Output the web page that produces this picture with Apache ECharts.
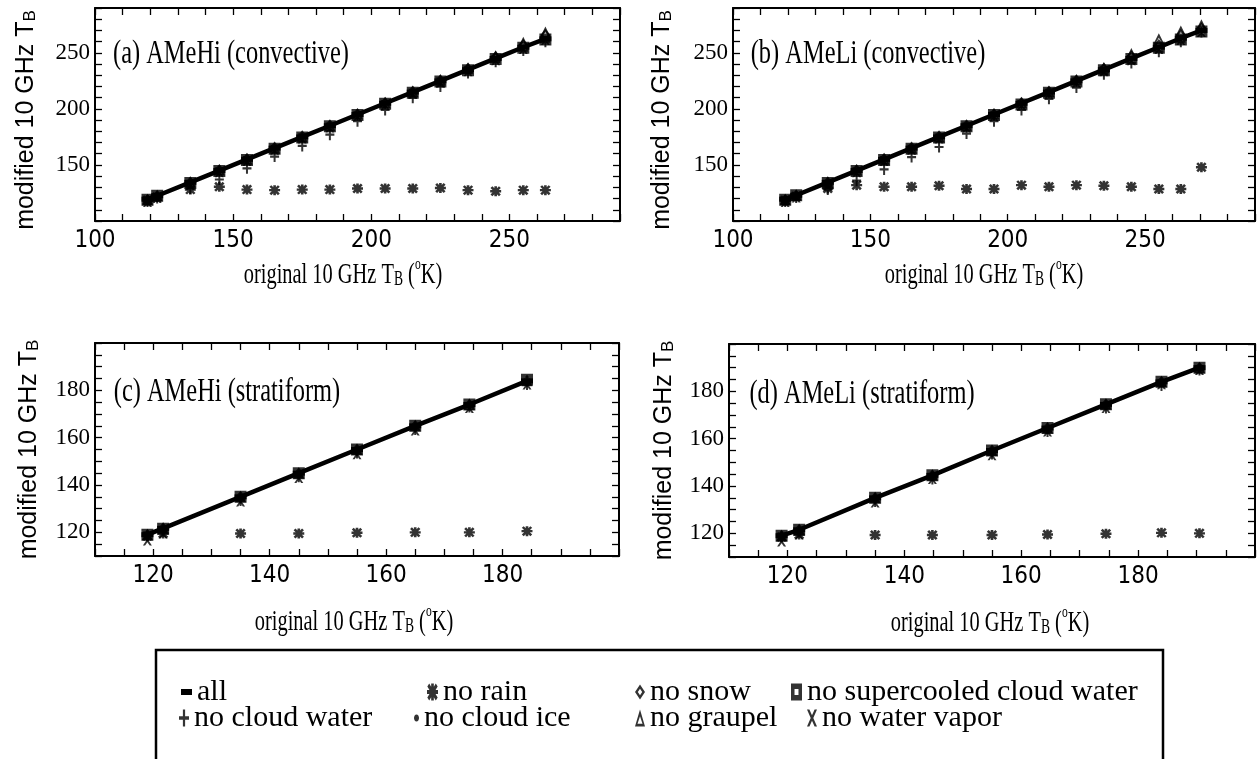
<!DOCTYPE html>
<html><head><meta charset="utf-8">
<script src="https://cdn.jsdelivr.net/npm/echarts@6/dist/echarts.min.js"></script>
<style>html,body{margin:0;padding:0;background:#fff}#c{width:1258px;height:759px}</style>
</head><body><div id="c"></div>
<script>
// ---- series names (legend) ----
const NAMES = ['all','no rain','no snow','no supercooled cloud water','no cloud water','no cloud ice','no graupel','no water vapor'];

// ---- panel (a) AMeHi convective ----
const A_X       = [119,122.5,134.5,145,155,165,175,185,195,205,215,225,235,245,255,263];
const A_ALL     = [119.5,122.5,134.5,145,155,165,175,185,195,205,215,225,235,245,255,262.5];
const A_RAIN    = [118.5,121.5,128,130.5,128,127.5,128,128,129,129,129,129.5,127.5,126.5,127.5,127.5];
const A_SNOW    = [119,122.5,134.5,145.5,155.5,165.5,175.5,185.5,195.5,205.5,215.5,225.5,236,246.5,257,266];
const A_SC      = [119,122.5,134,144.5,154.5,164.5,174.5,184.5,194.5,204.5,214.5,224.5,234.5,244.5,254.5,262];
const A_CW      = [117.5,120.5,129,137,147,157.5,167,177,189,199,210,220,232,242,252,260];
const A_ICE     = [119.5,122.5,134.5,145,155,165,175,185,195,205,215,225,235,245,255,262.5];
const A_GRAUPEL = [119,122.5,134.5,145.5,155,165,175,185,195.5,205.5,215.5,226,236.5,247.5,259.5,268.5];
const A_VAPOR   = [117,120.5,132,143.5,153.5,163.5,173.5,183.5,193.5,203.5,213.5,223.5,233.5,243.5,253.5,261.5];

// ---- panel (b) AMeLi convective ----
const B_X       = [119,123,134.5,145,155,165,175,185,195,205,215,225,235,245,255,263,270.5];
const B_ALL     = [119.5,123,134.5,145,155,165,175,185,195,205,215,225,235,245,255,263,270];
const B_RAIN    = [118.5,122,129,132,130.5,130.5,131.5,128.5,128.5,132,130.5,132,131.5,130.5,128.5,128.5,148];
const B_SNOW    = [119,123,134.5,145.5,155.5,165.5,175.5,185.5,195.5,205.5,215.5,225.5,236,247,257,266,272];
const B_SC      = [119,123,134,144.5,154.5,164.5,174.5,184.5,194.5,204,214.5,224.5,234.5,244.5,254.5,262,269];
const B_CW      = [117.5,121,128,136,146,157,166,178,189,199,209,219,231,241,251,260,268.5];
const B_ICE     = [119.5,123,134.5,145,155,165,175,185,195,205,215,225,235,245,255,263,270];
const B_GRAUPEL = [119,123,134.5,145.5,155,165,175,185,195.5,205.5,215.5,226,237,249.5,262.5,269.5,275];
const B_VAPOR   = [117,121,132,143.5,153.5,163.5,173.5,183.5,193.5,203.5,213.5,223.5,233.5,243.5,253.5,261.5,268.5];

// ---- panel (c) AMeHi stratiform ----
const C_X       = [119,121.7,135,145,155,165,174.3,184.2];
const C_ALL     = [119,121.7,135,145,155,165,174,184];
const C_RAIN    = [118.5,119.5,119.5,119.5,119.8,120,120,120.5];
const C_SNOW    = [119,121.7,135,145,155,165,174,184];
const C_SC      = [119,121.5,135,145,155,165,174,184.5];
const C_CW      = [118.5,120.5,133.5,143.5,153.5,163.5,173,182.5];
const C_ICE     = [119,121.7,135,145,155,165,174,184];
const C_GRAUPEL = [119,121.7,135,145,155,165,174,184];
const C_VAPOR   = [116.5,119.5,133,143,153,163,172.5,182.5];

// ---- panel (d) AMeLi stratiform ----
const D_X       = [119,122,135,144.8,155,164.5,174.5,184,190.5];
const D_ALL     = [119,121.5,135,144.5,155,164.5,174.5,184,190];
const D_RAIN    = [118.5,119.5,119.3,119.3,119.3,119.5,119.8,120.2,120];
const D_SNOW    = [119,121.5,135,144.5,155,164.5,174.5,184,190];
const D_SC      = [119,121.5,135,144.5,155,164.5,174.5,184,190];
const D_CW      = [118.5,120.5,133.5,143,153.5,163,173,182.5,189];
const D_ICE     = [119,121.5,135,144.5,155,164.5,174.5,184,190];
const D_GRAUPEL = [119,121.5,135,144.5,155,164.5,174.5,184,190];
const D_VAPOR   = [116.5,119.5,133,143,153,163,173,183,189];

// ---- axis tick labels ----
const CONV_TICKS  = [100,150,200,250];
const CONV_YTICKS = [150,200,250];
const STRAT_TICKS = [120,140,160,180];

const TITLES = ['(a) AMeHi (convective)','(b) AMeLi (convective)','(c) AMeHi (stratiform)','(d) AMeLi (stratiform)'];

const PANELS = [
  {x:A_X, vals:[A_ALL,A_RAIN,A_SNOW,A_SC,A_CW,A_ICE,A_GRAUPEL,A_VAPOR], kind:'conv'},
  {x:B_X, vals:[B_ALL,B_RAIN,B_SNOW,B_SC,B_CW,B_ICE,B_GRAUPEL,B_VAPOR], kind:'conv'},
  {x:C_X, vals:[C_ALL,C_RAIN,C_SNOW,C_SC,C_CW,C_ICE,C_GRAUPEL,C_VAPOR], kind:'strat'},
  {x:D_X, vals:[D_ALL,D_RAIN,D_SNOW,D_SC,D_CW,D_ICE,D_GRAUPEL,D_VAPOR], kind:'strat'}
];

// ---- layout / style ----
const GRIDS = [
  {left:95, top:8, width:525, height:213},
  {left:733, top:8, width:524, height:213},
  {left:95, top:343, width:524, height:213},
  {left:729, top:344, width:528, height:213}
];
const SYM = {
  'all': 'path://M0,0H100V45H0Z',
  'no rain': 'path://M38,0H62V100H38Z M3,17L20,0L97,83L80,100Z M80,0L97,17L20,100L3,83Z M0,38H100V62H0Z',
  'no snow': 'path://M50,0L100,50L50,100L0,50Z M50,28L28,50L50,72L72,50Z',
  'no supercooled cloud water': 'path://M0,0H100V100H0Z M32,32V68H68V32Z',
  'no cloud water': 'path://M40,0H60V40H95V60H60V100H40V60H5V40H40Z',
  'no cloud ice': 'path://M50,0C80,0 100,22 100,50C100,78 80,100 50,100C20,100 0,78 0,50C0,22 20,0 50,0Z',
  'no graupel': 'path://M50,0L100,100L0,100Z M50,40L25,84H75Z',
  'no water vapor': 'path://M0,0L24,0L50,34L76,0L100,0L63,50L100,100L76,100L50,66L24,100L0,100L37,50Z'
};
const SIZE = {
  'all':[12,5], 'no rain':[11,10], 'no snow':[10,12], 'no supercooled cloud water':[12,12],
  'no cloud water':[9,11], 'no cloud ice':[4,5], 'no graupel':[11,11], 'no water vapor':[9,10]
};
const SERIF = '"Liberation Serif", "Times New Roman", serif';
const SANS = '"Liberation Sans", Arial, sans-serif';
const NARROW = '"Liberation Sans Narrow", "DejaVu Sans Condensed", "Liberation Sans", sans-serif';

const xAxis = [], yAxis = [], series = [];
PANELS.forEach((p, gi) => {
  const conv = p.kind === 'conv';
  const min = conv ? 100 : 110, max = conv ? 290 : 200, step = conv ? 10 : 5;
  const xt = conv ? CONV_TICKS : STRAT_TICKS;
  const yt = conv ? CONV_YTICKS : STRAT_TICKS;
  const line = {show:true, lineStyle:{color:'#000', width:2}};
  const tick = {show:true, inside:true, length:7, lineStyle:{color:'#000', width:1.3}};
  const fmt = list => v => (list.indexOf(Math.round(v)) >= 0 && Math.abs(v - Math.round(v)) < 1e-6) ? String(Math.round(v)) : '';
  xAxis.push({gridIndex:gi, type:'value', position:'bottom', min, max, interval:step,
    axisLine:line, axisTick:tick, splitLine:{show:false},
    axisLabel:{margin:8, color:'#000', fontFamily:NARROW, fontSize:24, formatter: fmt(xt)}});
  xAxis.push({gridIndex:gi, type:'value', position:'top', min, max, interval:step,
    axisLine:line, axisTick:tick, axisLabel:{show:false}, splitLine:{show:false}});
  yAxis.push({gridIndex:gi, type:'value', position:'left', min, max, interval:step,
    axisLine:line, axisTick:tick, splitLine:{show:false},
    axisLabel:{margin:5, color:'#000', fontFamily:SERIF, fontSize:23, formatter: fmt(yt)},
    name:'{n|modified 10 GHz T}{s|B}', nameLocation:'middle', nameGap: gi % 2 === 0 ? (conv ? 56 : 53) : (conv ? 58 : 52),
    nameTextStyle:{color:'#000', fontFamily:SANS, fontSize:25, padding: conv ? [0,11,0,0] : 0,
      rich:{n:{color:'#000', fontFamily:SANS, fontSize:25, lineHeight:28, verticalAlign:'bottom'},
            s:{color:'#000', fontFamily:SANS, fontSize:17, lineHeight:28, verticalAlign:'bottom'}}}});
  yAxis.push({gridIndex:gi, type:'value', position:'right', min, max, interval:step,
    axisLine:line, axisTick:tick, axisLabel:{show:false}, splitLine:{show:false}});

  NAMES.forEach((name, si) => {
    const data = p.x.map((x, i) => [x, p.vals[si][i]]);
    const base = {name, xAxisIndex:gi*2, yAxisIndex:gi*2, data, symbol:SYM[name], symbolSize:SIZE[name],
      symbolKeepAspect:false, itemStyle:{color:'#000'}, silent:true, animation:false};
    if (name === 'all') {
      series.push(Object.assign(base, {type:'line', showSymbol:true, z:2, lineStyle:{color:'#000', width:4.5}}));
    } else {
      series.push(Object.assign(base, {type:'scatter', z:3}));
    }
  });
});

// ---- legend (one component per entry, placed in the boxed key) ----
const LEG_FONT = 30;
const LEG = [
  {name:'all', left:181, c:692, w:11, h:6},
  {name:'no rain', left:427, c:692, w:11, h:17},
  {name:'no snow', left:635, c:692, w:10, h:15},
  {name:'no supercooled cloud water', left:791, c:692, w:11, h:17},
  {name:'no cloud water', left:179, c:718, w:10, h:17},
  {name:'no cloud ice', left:414, c:718, w:5, h:7},
  {name:'no graupel', left:635, c:718, w:10, h:17},
  {name:'no water vapor', left:807, c:718, w:10, h:17}
];
const legend = LEG.map(l => ({
  left:l.left, top:l.c - LEG_FONT/2, padding:0, itemGap:0, itemWidth:l.w, itemHeight:l.h,
  symbolKeepAspect:false, selectedMode:false,
  textStyle:{color:'#000', fontFamily:SERIF, fontSize:LEG_FONT},
  data:[{name:l.name, icon:SYM[l.name], itemStyle:{color:'#000'}}]
}));

// ---- text graphics ----
const TITLE_POS = [[231,54],[868,54],[227,392],[862,394]];
const XNAME_POS = [[343,273],[984,273],[354,620],[990,621]];
const graphic = [];
TITLES.forEach((t, i) => {
  graphic.push({type:'text', x:TITLE_POS[i][0], y:TITLE_POS[i][1], scaleX:0.74, z:10,
    style:{text:t, fill:'#000', font:'33px ' + SERIF, align:'center', verticalAlign:'middle'}});
  graphic.push({type:'text', x:XNAME_POS[i][0], y:XNAME_POS[i][1], scaleX:0.68, z:10,
    style:{text:'{n|original 10 GHz T}{s|B}{n| (}{o|o}{n|K)}', fill:'#000', align:'center', verticalAlign:'middle',
      rich:{n:{fill:'#000', fontFamily:SERIF, fontSize:30, lineHeight:34, verticalAlign:'bottom'},
            s:{fill:'#000', fontFamily:SERIF, fontSize:20, lineHeight:34, verticalAlign:'bottom'},
            o:{fill:'#000', fontFamily:SERIF, fontSize:17, lineHeight:34, verticalAlign:'top'}}}});
});
graphic.push({type:'rect', shape:{x:156, y:650, width:1007, height:130}, z:0,
  style:{fill:'none', stroke:'#000', lineWidth:2.5}});

const chart = echarts.init(document.getElementById('c'), null, {renderer:'canvas'});
chart.setOption({
  animation:false,
  backgroundColor:'#fff',
  textStyle:{fontFamily:SERIF},
  grid: GRIDS.map(g => Object.assign({containLabel:false}, g)),
  xAxis, yAxis, series, legend, graphic
});
</script></body></html>
